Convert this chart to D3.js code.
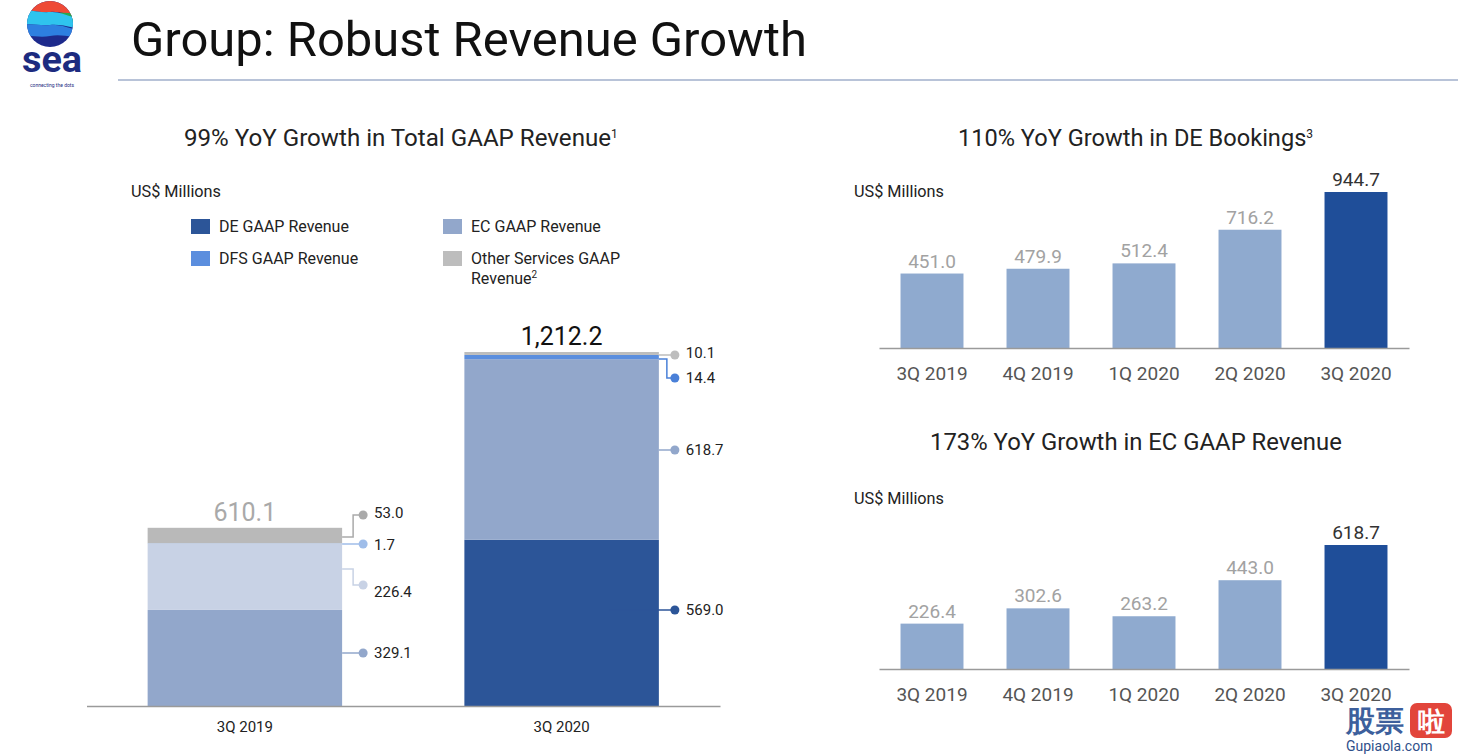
<!DOCTYPE html>
<html><head><meta charset="utf-8">
<script src="https://cdn.jsdelivr.net/npm/d3@7"></script>
<style>
body{margin:0;background:#fff}
svg{display:block}
text{font-family:Roboto,"Noto Sans",sans-serif}
</style>
</head><body>
<svg id="c" width="1458" height="756"></svg>
<script>
// ---------------- DATA ----------------
const stackCategories = ["3Q 2019", "3Q 2020"];
const seriesNames = ["DE GAAP Revenue", "EC GAAP Revenue", "DFS GAAP Revenue", "Other Services GAAP Revenue"];
const deRevenue = [329.1, 569.0];
const ecRevenue = [226.4, 618.7];
const dfsRevenue = [1.7, 14.4];
const otherRevenue = [53.0, 10.1];
const totalRevenue = [610.1, 1212.2];

const quarters = ["3Q 2019", "4Q 2019", "1Q 2020", "2Q 2020", "3Q 2020"];
const deBookings = [451.0, 479.9, 512.4, 716.2, 944.7];
const ecGaapRevenue = [226.4, 302.6, 263.2, 443.0, 618.7];

// ---------------- STYLE ----------------
const colors2020 = ["#2c5598", "#92a7cb", "#5b8ede", "#bdbdbd"];
const colors2019 = ["#92a7cb", "#c8d2e5", "#9fbde9", "#b9b9b9"];
const dotColors = [["#92a7cb", "#c8d2e5", "#9fbde9", "#aaaaaa"], ["#2c5598", "#92a7cb", "#4a80d8", "#bdbdbd"]];
const barColors = [colors2019, colors2020];

const svg = d3.select("#c");
const fmt1 = d3.format(",.1f");

function fit(sel, w) {
  const L = sel.node().getComputedTextLength();
  const fs = parseFloat(sel.attr("font-size"));
  sel.attr("font-size", fs * w / L);
  return sel;
}

// ---------------- HEADER ----------------
const defs = svg.append("defs");
defs.append("clipPath").attr("id", "lg").append("circle").attr("cx", 50).attr("cy", 24).attr("r", 23);
const logo = svg.append("g").attr("clip-path", "url(#lg)");
logo.append("rect").attr("x", 20).attr("y", 0).attr("width", 60).attr("height", 60).attr("fill", "#1d2a8c");
logo.append("path").attr("d", "M20,0 H80 V17 C70,16 62,11 50,12 C40,13 30,9 20,11 Z").attr("fill", "#ee4a36");
logo.append("path").attr("d", "M55,14 C63,11 70,14 80,13 V23 C70,21 62,20 55,17 Z").attr("fill", "#27a84f");
logo.append("path").attr("d", "M20,11 C30,9 40,13 50,12 C60,11 70,17 80,19 V29 C70,27 60,24 50,25 C40,26 30,23 20,25 Z").attr("fill", "#2fc4ee");
logo.append("path").attr("d", "M20,25 C30,23 40,26 50,25 C60,24 70,29 80,30 V37 C70,37 60,34 50,36 C40,38 30,35 20,36 Z").attr("fill", "#2d7fe0");
fit(svg.append("text").attr("x", 22).attr("y", 72)
  .attr("font-size", 30).attr("font-weight", 700).attr("fill", "#1d2b7f").text("sea"), 60);
svg.append("text").attr("x", 52).attr("y", 87).attr("text-anchor", "middle")
  .attr("font-size", 5).attr("fill", "#1d2b7f").text("connecting the dots");

fit(svg.append("text").attr("x", 131).attr("y", 56).attr("font-size", 46).attr("fill", "#111")
  .text("Group: Robust Revenue Growth"), 676);
svg.append("line").attr("x1", 118).attr("x2", 1458).attr("y1", 80).attr("y2", 80)
  .attr("stroke", "#b8c3d8").attr("stroke-width", 2);

// ---------------- LEFT: STACKED ----------------
const left = svg.append("g");
const t1 = left.append("text").attr("x", 184).attr("y", 146).attr("font-size", 21).attr("fill", "#222");
t1.append("tspan").text("99% YoY Growth in Total GAAP Revenue");
t1.append("tspan").attr("font-size", 12).attr("dy", -8).text("1");
fit(t1, 435);

fit(left.append("text").attr("x", 131).attr("y", 197).attr("font-size", 15).attr("fill", "#222").text("US$ Millions"), 90);

const legendPos = [[191, 219], [443, 219], [191, 251], [443, 251]];
seriesNames.forEach((name, i) => {
  const [lx, ly] = legendPos[i];
  left.append("rect").attr("x", lx).attr("y", ly).attr("width", 19).attr("height", 15).attr("fill", colors2020[i]);
  if (i === 3) {
    left.append("text").attr("x", lx + 28).attr("y", ly + 13).attr("font-size", 16).attr("fill", "#222").text("Other Services GAAP");
    const t2 = left.append("text").attr("x", lx + 28).attr("y", ly + 33).attr("font-size", 16).attr("fill", "#222");
    t2.append("tspan").text("Revenue");
    t2.append("tspan").attr("font-size", 10).attr("dy", -6).text("2");
  } else {
    left.append("text").attr("x", lx + 28).attr("y", ly + 13).attr("font-size", 16).attr("fill", "#222").text(name);
  }
});

const xS = d3.scaleBand().domain(stackCategories).range([86.5, 720]).paddingInner(0.386).paddingOuter(0.193);
const yS = d3.scaleLinear().domain([0, d3.max(totalRevenue)]).range([706, 352]);

const stackRows = stackCategories.map((c, i) => ({
  cat: c, s0: deRevenue[i], s1: ecRevenue[i], s2: dfsRevenue[i], s3: otherRevenue[i]
}));
const stacked = d3.stack().keys(["s0", "s1", "s2", "s3"])(stackRows);

stacked.forEach((layer, j) => {
  left.selectAll(null).data(layer).enter().append("rect")
    .attr("x", (d, i) => xS(stackCategories[i]))
    .attr("width", xS.bandwidth())
    .attr("y", d => yS(d[1]))
    .attr("height", d => yS(d[0]) - yS(d[1]))
    .attr("fill", (d, i) => barColors[i][j]);
});

const ax = left.append("g").attr("transform", "translate(0,706)")
  .call(d3.axisBottom(xS).tickSize(0).tickPadding(15));
ax.select(".domain").attr("stroke", "#9a9a9a").attr("stroke-width", 1.5);
ax.selectAll("text").attr("font-size", 15).attr("fill", "#222").attr("font-family", "Roboto,sans-serif");

left.selectAll(null).data(totalRevenue).enter().append("text")
  .attr("x", (d, i) => xS(stackCategories[i]) + xS.bandwidth() / 2)
  .attr("y", d => yS(d) - 7)
  .attr("text-anchor", "middle").attr("font-size", 25)
  .attr("fill", (d, i) => i === 0 ? "#a9a9a9" : "#111")
  .text(d => fmt1(d));

// call-out layout: [startX offset from bar right, startY, elbowX offset, dotY, textY]
const callouts = [
  [ [0, 653, null, 653, 653], [0, 569, 11, 585, 592], [0, 544, null, 544, 545], [0, 537, 11, 515, 513] ],
  [ [-49, 610, null, 610, 610], [0, 450, null, 450, 450], [0, 359, 8, 378, 378], [0, 355, null, 355, 353] ]
];
const seriesValues = [deRevenue, ecRevenue, dfsRevenue, otherRevenue];
stackCategories.forEach((c, i) => {
  const right = xS(c) + xS.bandwidth();
  const dotX = right + (i === 0 ? 21 : 16);
  seriesValues.forEach((vals, j) => {
    const [sx, sy, ex, dy, ty] = callouts[i][j];
    const col = dotColors[i][j];
    const pts = ex === null ? [[right + sx, sy], [dotX, dy]]
      : [[right + sx, sy], [right + ex, sy], [right + ex, dy], [dotX, dy]];
    left.append("path").attr("d", d3.line()(pts)).attr("fill", "none").attr("stroke", col).attr("stroke-width", 1.5);
    left.append("circle").attr("cx", dotX).attr("cy", dy).attr("r", 4.5).attr("fill", col);
    left.append("text").attr("x", dotX + 11).attr("y", ty).attr("dy", "0.35em")
      .attr("font-size", 15).attr("fill", "#222").text(fmt1(vals[i]));
  });
});

// ---------------- RIGHT CHARTS ----------------
function barChart(opts) {
  const g = svg.append("g");
  const tt = g.append("text").attr("x", opts.tx).attr("y", opts.ty).attr("font-size", 21).attr("fill", "#222");
  tt.append("tspan").text(opts.title);
  if (opts.sup) tt.append("tspan").attr("font-size", 12).attr("dy", -8).text(opts.sup);
  fit(tt, opts.tw);
  fit(g.append("text").attr("x", 854).attr("y", opts.uy).attr("font-size", 15).attr("fill", "#222").text("US$ Millions"), 90);

  const x = d3.scaleBand().domain(quarters).range([879, 1409]).paddingInner(0.406).paddingOuter(0.203);
  const y = d3.scaleLinear().domain([0, d3.max(opts.values)]).range([opts.base, opts.top]);
  const last = opts.values.length - 1;
  g.selectAll(null).data(opts.values).enter().append("rect")
    .attr("x", (d, i) => x(quarters[i])).attr("width", x.bandwidth())
    .attr("y", d => y(d)).attr("height", d => opts.base - y(d))
    .attr("fill", (d, i) => i === last ? "#1f4e99" : "#8faacf");
  g.selectAll(null).data(opts.values).enter().append("text")
    .attr("x", (d, i) => x(quarters[i]) + x.bandwidth() / 2)
    .attr("y", d => y(d) - 6).attr("text-anchor", "middle").attr("font-size", 19)
    .attr("fill", (d, i) => i === last ? "#333" : "#a2a2a2")
    .text(d => fmt1(d));
  const a = g.append("g").attr("transform", `translate(0,${opts.base})`)
    .call(d3.axisBottom(x).tickSize(0).tickPadding(19));
  a.select(".domain").attr("stroke", "#9a9a9a").attr("stroke-width", 1.5);
  a.selectAll("text").attr("font-size", 19).attr("fill", "#555").attr("font-family", "Roboto,sans-serif");
}

barChart({ title: "110% YoY Growth in DE Bookings", sup: "3", tx: 958, ty: 146, tw: 356, uy: 197,
  values: deBookings, base: 348, top: 192 });
barChart({ title: "173% YoY Growth in EC GAAP Revenue", sup: null, tx: 930, ty: 450, tw: 412, uy: 504,
  values: ecGaapRevenue, base: 669, top: 545 });

// ---------------- WATERMARK ----------------
const wm = svg.append("g");
wm.append("text").attr("x", 1346).attr("y", 731).attr("font-family", "Noto Sans CJK SC").attr("font-weight", 700)
  .attr("font-size", 29).attr("fill", "#3d5f9c").text("股票");
wm.append("rect").attr("x", 1410).attr("y", 703).attr("width", 42).attr("height", 35).attr("rx", 7).attr("fill", "#e2453b");
wm.append("text").attr("x", 1431).attr("y", 731).attr("text-anchor", "middle").attr("font-family", "Noto Sans CJK SC")
  .attr("font-weight", 700).attr("font-size", 27).attr("fill", "#fff").text("啦");
wm.append("text").attr("x", 1346).attr("y", 751).attr("font-family", "Liberation Serif,DejaVu Serif,serif")
  .attr("font-size", 14).attr("fill", "#2f4f8a").text("Gupiaola.com");
</script>
</body></html>
